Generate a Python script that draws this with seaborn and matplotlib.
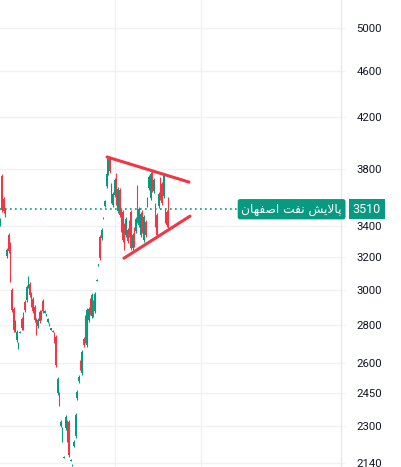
import numpy as np
import pandas as pd
import matplotlib
matplotlib.use("Agg")
import matplotlib.pyplot as plt
import seaborn as sns

# daily candles (oldest -> newest), prices
open_p = [3410, 3744, 3581, 3470, 3203, 3337, 3280, 2997, 2889, 2772,
          2718, 2682, 2759, 2833, 2783, 2928, 2939, 3020, 3032, 2974,
          2945, 2900, 2827, 2794, 2872, 2838, 2933, 2869, 2852, 2816,
          2808, 2774, 2763, 2750, 2734, 2452, 2447, 2298, 2236, 2161,
          2289, 2236, 2316, 2148, 2127, 2210, 2254, 2428, 2509, 2604,
          2549, 2724, 2844, 2692, 2827, 2939, 2850, 2928, 2877, 3052,
          3144, 3324, 3318, 3446, 3532, 3672, 3767, 3872, 3567, 3539,
          3609, 3752, 3497, 3644, 3504, 3490, 3403, 3337, 3370, 3423,
          3490, 3254, 3377, 3363, 3665, 3403, 3337, 3490, 3305, 3423,
          3539, 3658, 3588, 3774, 3637, 3539, 3470, 3532, 3722, 3687,
          3602, 3430, 3490, 3581]
close_p = [3436, 3504, 3497, 3504, 3241, 3235, 3056, 2883, 2772, 2816,
           2761, 2697, 2763, 2783, 2861, 2883, 3015, 3068, 2968, 2911,
           2877, 2827, 2756, 2827, 2821, 2872, 2877, 2880, 2858, 2833,
           2797, 2781, 2770, 2713, 2589, 2519, 2399, 2316, 2285, 2165,
           2339, 2316, 2171, 2152, 2131, 2227, 2348, 2456, 2529, 2574,
           2656, 2692, 2713, 2883, 2889, 2866, 2968, 2855, 2974, 3060,
           3152, 3191, 3370, 3453, 3567, 3759, 3872, 3782, 3680, 3616,
           3715, 3553, 3651, 3470, 3370, 3305, 3254, 3443, 3299, 3337,
           3254, 3337, 3273, 3443, 3430, 3511, 3477, 3363, 3456, 3337,
           3581, 3737, 3759, 3644, 3715, 3403, 3337, 3616, 3588, 3553,
           3752, 3504, 3403, 3397]
high_p = [3450, 3759, 3595, 3518, 3254, 3350, 3292, 3009, 2900, 2827,
          2772, 2708, 2766, 2844, 2872, 2939, 3026, 3080, 3044, 2985,
          2956, 2911, 2838, 2838, 2883, 2883, 2945, 2883, 2861, 2838,
          2810, 2783, 2772, 2761, 2745, 2528, 2457, 2325, 2294, 2167,
          2348, 2325, 2325, 2154, 2133, 2236, 2357, 2466, 2539, 2614,
          2666, 2734, 2855, 2894, 2900, 2951, 2979, 2939, 2985, 3062,
          3154, 3337, 3383, 3456, 3574, 3774, 3887, 3887, 3694, 3630,
          3730, 3767, 3665, 3658, 3518, 3504, 3416, 3456, 3383, 3436,
          3504, 3350, 3390, 3456, 3680, 3525, 3490, 3504, 3470, 3436,
          3595, 3752, 3774, 3789, 3730, 3553, 3484, 3630, 3737, 3701,
          3767, 3518, 3504, 3595]
low_p = [3397, 3490, 3484, 3456, 3191, 3222, 3044, 2872, 2761, 2761,
         2708, 2671, 2756, 2772, 2772, 2872, 2928, 3009, 2956, 2900,
         2866, 2816, 2745, 2783, 2810, 2827, 2866, 2866, 2850, 2810,
         2794, 2772, 2761, 2703, 2579, 2442, 2390, 2294, 2227, 2159,
         2280, 2227, 2163, 2146, 2125, 2206, 2245, 2418, 2499, 2564,
         2539, 2682, 2703, 2682, 2816, 2855, 2838, 2844, 2866, 3050,
         3142, 3178, 3305, 3443, 3525, 3658, 3752, 3767, 3553, 3525,
         3595, 3539, 3484, 3456, 3357, 3292, 3241, 3324, 3286, 3324,
         3241, 3241, 3260, 3350, 3416, 3390, 3324, 3350, 3292, 3324,
         3525, 3644, 3574, 3630, 3623, 3390, 3324, 3518, 3574, 3539,
         3588, 3416, 3390, 3383]

# triangle trend lines (bar index, price)
upper_x = [65.3, 115.6]
upper_y = [3887, 3701]
lower_x = [75.7, 116.2]
lower_y = [3190, 3463]

last_price = 3510
symbol_name = "پالایش نفت اصفهان"
# same text in shaped presentation forms, visual order (matplotlib has no Arabic shaping)
symbol_shaped = "\uFEE5\uFE8E\uFEEC\uFED4\uFEBB\uFE8D \uFE96\uFED4\uFEE7 \uFEB6\uFBFE\uFEFB\uFE8E\uFB58"

y_ticks = [2140, 2300, 2450, 2600, 2800, 3000, 3200, 3400, 3800, 4200, 4600, 5000]

UP = "#089981"
DOWN = "#f23645"
GRID = "#f0f1f4"

sns.set_style("white")
plt.rcParams["font.family"] = ["Roboto", "DejaVu Sans"]

df = pd.DataFrame({"open": open_p, "high": high_p, "low": low_p, "close": close_p})
df["x"] = np.arange(len(df))
df["up"] = df["close"] >= df["open"]
df["color"] = np.where(df["up"], UP, DOWN)

fig = plt.figure(figsize=(4.01, 4.67), dpi=100)
ax = fig.add_axes([0, 0, 341 / 401, 1])
ax.set_yscale("log")

# grid
for t in y_ticks:
    ax.axhline(t, color=GRID, lw=1, zorder=0)
for gx in [70.2, 122.9]:
    ax.axvline(gx, color=GRID, lw=1, zorder=0)

# candles
ax.vlines(df["x"], df["low"], df["high"], colors=df["color"], lw=0.8, zorder=2)
body_lo = df[["open", "close"]].min(axis=1)
body_h = (df["close"] - df["open"]).abs()
ax.bar(df["x"], body_h, bottom=body_lo, width=0.8, color=df["color"], lw=0, zorder=2)

# last price line
ax.axhline(last_price, color=UP, lw=1.2, ls=(0, (1, 2)), zorder=1)

# triangle
tri = pd.DataFrame({"x": upper_x + lower_x, "y": upper_y + lower_y,
                    "side": ["upper", "upper", "lower", "lower"]})
sns.lineplot(data=tri, x="x", y="y", units="side", estimator=None,
             color=DOWN, lw=2.2, ax=ax, legend=False, zorder=3,
             solid_capstyle="round")

ax.set_xlim(-0.3, -0.3 + 341 / 1.631)
ax.set_ylim(2122, 5281)

ax.yaxis.tick_right()
ax.set_yticks(y_ticks)
ax.set_yticklabels([str(t) for t in y_ticks])
ax.yaxis.set_minor_locator(matplotlib.ticker.NullLocator())
ax.tick_params(axis="y", length=3, color=GRID, pad=8, labelsize=8.2, labelcolor="#131722")
ax.tick_params(axis="x", bottom=False, labelbottom=False)
ax.set_xlabel("")
ax.set_ylabel("")
for s in ["top", "left", "bottom"]:
    ax.spines[s].set_visible(False)
ax.spines["right"].set_color("#e6e8ec")
ax.spines["right"].set_linewidth(1)

# price label boxes
trans = ax.get_yaxis_transform()
ax.text(1.034, last_price, str(last_price), transform=trans, ha="left", va="center",
        color="white", fontsize=9, clip_on=False, zorder=5,
        bbox=dict(boxstyle="square,pad=0.3", fc=UP, ec="none"))
ax.text(1.0025, last_price, symbol_shaped, transform=trans, ha="right", va="center",
        color="white", fontsize=8.8, family=["DejaVu Sans"], clip_on=False, zorder=5,
        bbox=dict(boxstyle="round,pad=0.3,rounding_size=0.2", fc=UP, ec="none"))

fig.savefig("out.png", dpi=100)
